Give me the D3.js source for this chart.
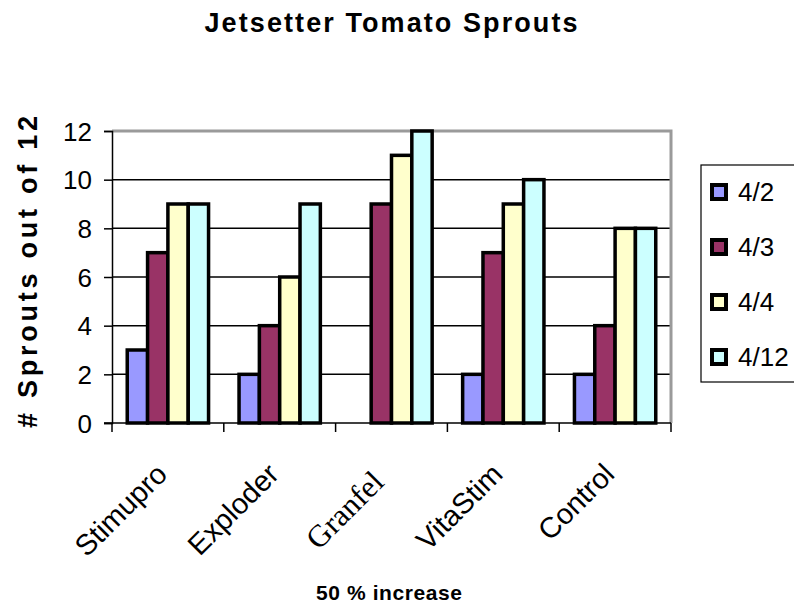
<!DOCTYPE html>
<html>
<head>
<meta charset="utf-8">
<script src="https://cdn.jsdelivr.net/npm/d3@7"></script>
<style>
  html, body { margin: 0; padding: 0; background: #fff; }
  svg { display: block; }
  text { font-family: Arial, "Liberation Sans", sans-serif; fill: #000; }
</style>
</head>
<body>
<svg id="chart" width="794" height="606"></svg>
<script>
const categories = ["Stimupro", "Exploder", "Granfel", "VitaStim", "Control"];
const seriesNames = ["4/2", "4/3", "4/4", "4/12"];
const s_4_2  = [3, 2, 0, 2, 2];
const s_4_3  = [7, 4, 9, 7, 4];
const s_4_4  = [9, 6, 11, 9, 8];
const s_4_12 = [9, 9, 12, 10, 8];
const seriesValues = [s_4_2, s_4_3, s_4_4, s_4_12];
const seriesColors = ["#9999FF", "#993366", "#FFFFCC", "#CCFFFF"];
const yTicks = [0, 2, 4, 6, 8, 10, 12];

const svg = d3.select("#chart");
const pLeft = 112, pRight = 671, pTop = 131, pBottom = 423;

const x0 = d3.scaleBand().domain(categories).range([pLeft, pRight]).paddingInner(0).paddingOuter(0);
const x1 = d3.scaleBand().domain(seriesNames).range([0, x0.bandwidth()]).paddingInner(0).paddingOuter(0.75);
const y = d3.scaleLinear().domain([0, 12]).range([pBottom, pTop]);

// gridlines
svg.append("g").selectAll("line").data(yTicks.filter(d => d > 0 && d < 12)).join("line")
  .attr("x1", pLeft).attr("x2", pRight)
  .attr("y1", d => y(d)).attr("y2", d => y(d))
  .attr("stroke", "#000").attr("stroke-width", 1.5);

// plot frame (grey top/right)
svg.append("path")
  .attr("d", `M${pLeft},${pTop}H${pRight}V${pBottom}`)
  .attr("fill", "none").attr("stroke", "#9a9a9a").attr("stroke-width", 3);

// bars
const groups = svg.append("g").selectAll("g").data(categories).join("g")
  .attr("transform", d => `translate(${x0(d)},0)`);
groups.selectAll("rect")
  .data((c, i) => seriesNames.map((s, j) => ({ s, v: seriesValues[j][i], color: seriesColors[j] })).filter(d => d.v > 0))
  .join("rect")
  .attr("x", d => x1(d.s))
  .attr("width", x1.bandwidth())
  .attr("y", d => y(d.v))
  .attr("height", d => y(0) - y(d.v))
  .attr("fill", d => d.color)
  .attr("stroke", "#000").attr("stroke-width", 3.5);

// y axis
const yAxis = d3.axisLeft(y).tickValues(yTicks).tickSize(8).tickPadding(12).tickFormat(d3.format("d"));
const gy = svg.append("g").attr("transform", `translate(${pLeft},0)`).call(yAxis);
gy.select(".domain").attr("stroke", "#000").attr("stroke-width", 1.5);
gy.selectAll(".tick line").attr("stroke", "#000").attr("stroke-width", 1.5);
gy.selectAll(".tick text").attr("font-size", 26).attr("font-family", "Arial, 'Liberation Sans', sans-serif").attr("dy", "0.35em");

// x axis
const gx = svg.append("g").attr("transform", `translate(0,${pBottom})`);
gx.append("line").attr("x1", pLeft - 8).attr("x2", pRight).attr("y1", 0).attr("y2", 0)
  .attr("stroke", "#000").attr("stroke-width", 1.5);
const boundaries = categories.map(c => x0(c)).concat([x0(categories[categories.length - 1]) + x0.bandwidth()]);
gx.selectAll("line.tk").data(boundaries).join("line").attr("class", "tk")
  .attr("x1", d => d).attr("x2", d => d).attr("y1", 0).attr("y2", 9)
  .attr("stroke", "#000").attr("stroke-width", 1.5);

// x labels, rotated
svg.append("g").selectAll("text").data(categories).join("text")
  .attr("transform", d => d === "Granfel"
      ? `translate(${x0(d) + x0.bandwidth() / 2 - 6},484) rotate(-45)`
      : `translate(${x0(d) + x0.bandwidth() / 2 + 1},476) rotate(-45)`)
  .attr("text-anchor", "end")
  .attr("font-size", d => d === "Granfel" ? 31 : 29)
  .style("font-family", d => d === "Granfel" ? "'Liberation Serif', 'Times New Roman', serif" : "Arial, 'Liberation Sans', sans-serif")
  .text(d => d);

// title
svg.append("text").attr("x", 391).attr("y", 32).attr("text-anchor", "middle")
  .attr("font-size", 27).attr("font-weight", "bold")
  .attr("textLength", 373).attr("lengthAdjust", "spacing")
  .text("Jetsetter Tomato Sprouts");

// y title
svg.append("text").attr("transform", "translate(37,272) rotate(-90)").attr("text-anchor", "middle")
  .attr("font-size", 27).attr("font-weight", "bold")
  .attr("textLength", 312).attr("lengthAdjust", "spacing")
  .text("# Sprouts out of 12");

// x title
svg.append("text").attr("x", 389).attr("y", 600).attr("text-anchor", "middle")
  .attr("font-size", 21).attr("font-weight", "bold")
  .attr("textLength", 146).attr("lengthAdjust", "spacing")
  .text("50 % increase");

// legend
const lg = svg.append("g");
lg.append("rect").attr("x", 701).attr("y", 165).attr("width", 120).attr("height", 217)
  .attr("fill", "#fff").attr("stroke", "#000").attr("stroke-width", 1.2);
const items = lg.selectAll("g").data(seriesNames).join("g")
  .attr("transform", (d, i) => `translate(0,${201 + i * 55})`);
items.append("rect").attr("x", 712).attr("y", -16).attr("width", 14).attr("height", 14)
  .attr("fill", (d, i) => seriesColors[i]).attr("stroke", "#000").attr("stroke-width", 4);
items.append("text").attr("x", 738).attr("y", 0).attr("font-size", 26).text(d => d);
</script>
</body>
</html>
